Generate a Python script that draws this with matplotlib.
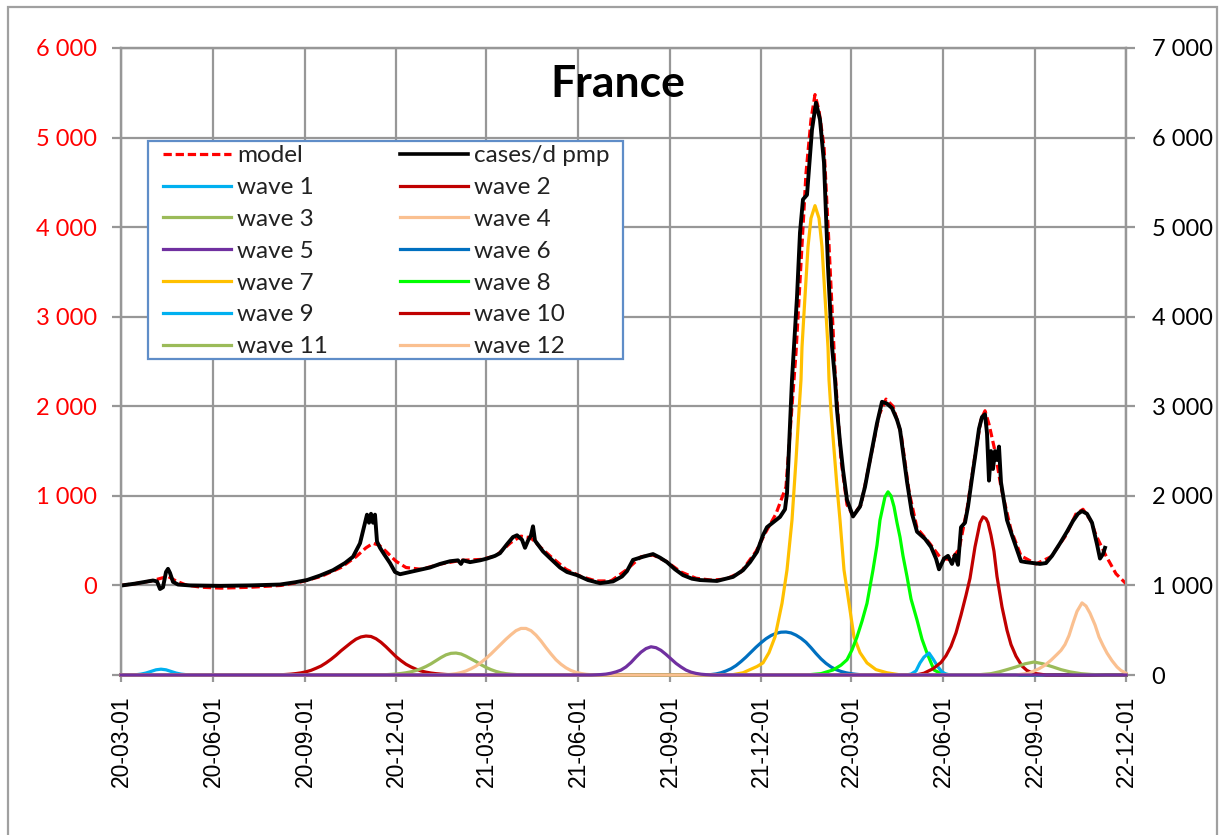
import numpy as np
import matplotlib
matplotlib.use("Agg")
import matplotlib.pyplot as plt
import matplotlib.dates as mdates
import matplotlib.ticker as mticker
from matplotlib.lines import Line2D
from matplotlib.patches import Rectangle

# ---------------------------------------------------------------------------
# Data: (days since 2020-03-01, value)
# ---------------------------------------------------------------------------
START_DATE = "2020-03-01"
END_DATE = "2022-12-01"

# observed daily cases per million (left axis)
cases = [
    (1, 0), (14, 20), (24, 40), (32, 55), (36, 45), (39, -40), (42, -20), (45, 150),
    (47, 185), (49, 140), (52, 40), (57, 10), (69, 0), (99, -5), (129, 0), (159, 10),
    (174, 35), (186, 60), (199, 110), (212, 170), (224, 250), (232, 320), (239, 470),
    (243, 650), (246, 790), (248, 700), (250, 800), (252, 700), (254, 790), (256, 490),
    (259, 420), (263, 350), (269, 250), (274, 150), (279, 125), (289, 150), (299, 175),
    (309, 200), (319, 240), (329, 270), (337, 280), (340, 240), (342, 280), (349, 260),
    (359, 280), (366, 300), (374, 330), (379, 360), (386, 460), (392, 540), (396, 560),
    (401, 510), (404, 420), (407, 500), (410, 560), (412, 660), (414, 500), (416, 470),
    (422, 380), (429, 305), (439, 200), (446, 150), (456, 115), (467, 60), (479, 25),
    (492, 45), (501, 100), (506, 160), (512, 285), (522, 320), (532, 350), (539, 310),
    (546, 260), (554, 180), (562, 115), (571, 75), (579, 60), (596, 50), (612, 95),
    (622, 170), (629, 260), (636, 375), (642, 560), (646, 650), (654, 720), (659, 765),
    (664, 850), (666, 1030), (669, 1800), (671, 2300), (676, 3220), (679, 3940),
    (682, 4310), (686, 4360), (691, 5090), (695, 5390), (699, 5200), (703, 4720),
    (707, 3560), (711, 2670), (714, 2300), (716, 1960), (719, 1600), (722, 1290),
    (726, 955), (732, 770), (739, 880), (744, 1100), (749, 1400), (756, 1810),
    (761, 2050), (766, 2030), (771, 1980), (776, 1850), (779, 1740), (786, 1160),
    (791, 800), (796, 600), (804, 520), (810, 430), (815, 300), (818, 180), (823, 300),
    (827, 330), (831, 240), (834, 340), (837, 230), (840, 650), (844, 700), (847, 880),
    (851, 1200), (854, 1430), (858, 1750), (861, 1880), (864, 1910), (866, 1700),
    (868, 1170), (870, 1500), (872, 1300), (874, 1500), (876, 1400), (878, 1550),
    (880, 1150), (886, 730), (891, 560), (895, 430), (900, 270), (905, 260), (912, 250),
    (919, 240), (925, 250), (931, 330), (939, 470), (946, 600), (952, 720), (957, 800),
    (961, 830), (966, 800), (971, 700), (976, 460), (979, 300), (982, 350), (984, 420),
]

# fitted model (left axis)
model = [
    (0, 0), (14, 20), (30, 50), (40, 80), (47, 100), (55, 50), (65, 5), (80, -20),
    (100, -30), (130, -20), (160, 0), (180, 40), (200, 100), (220, 200), (235, 320),
    (245, 420), (252, 470), (258, 450), (265, 380), (275, 270), (285, 200), (300, 180),
    (320, 240), (340, 280), (360, 290), (375, 330), (390, 480), (400, 550), (410, 530),
    (420, 420), (430, 320), (445, 180), (460, 100), (475, 50), (490, 50), (505, 170),
    (520, 320), (532, 340), (545, 270), (560, 150), (575, 80), (590, 60), (605, 70),
    (620, 150), (635, 380), (645, 600), (655, 800), (665, 1100), (675, 2600),
    (685, 4600), (690, 5200), (694, 5480), (698, 5300), (703, 4900), (708, 3800),
    (714, 2400), (720, 1400), (726, 900), (732, 780), (740, 900), (750, 1450),
    (758, 1900), (765, 2080), (772, 2000), (780, 1700), (788, 1050), (796, 640),
    (808, 480), (820, 300), (830, 290), (838, 400), (846, 850), (854, 1450),
    (860, 1850), (864, 1950), (868, 1800), (874, 1500), (880, 1100), (890, 620),
    (900, 330), (915, 240), (930, 320), (945, 560), (955, 800), (962, 850),
    (970, 720), (975, 560), (985, 330), (995, 130), (1005, 20),
]

# individual waves (right axis)
wave_1 = [(0, 0), (12, 0), (15, 3), (20, 10), (25, 22), (30, 40), (35, 58), (40, 65),
          (45, 58), (50, 40), (55, 22), (60, 10), (65, 4), (70, 1), (75, 0), (1005, 0)]
wave_2 = [(0, 0), (150, 0), (160, 3), (165, 6), (170, 10), (175, 16), (180, 24),
          (185, 36), (190, 52), (195, 75), (200, 100), (205, 135), (210, 175),
          (215, 220), (220, 270), (225, 315), (230, 360), (235, 400), (240, 425),
          (245, 435), (250, 430), (255, 405), (260, 365), (265, 315), (270, 260),
          (275, 205), (280, 160), (285, 120), (290, 90), (295, 65), (300, 45),
          (305, 32), (310, 22), (315, 15), (320, 10), (325, 6), (330, 3), (340, 0),
          (1005, 0)]
wave_3 = [(0, 0), (255, 0), (260, 2), (265, 4), (270, 7), (275, 11), (280, 17),
          (285, 25), (290, 36), (295, 50), (300, 70), (305, 95), (310, 125),
          (315, 160), (320, 195), (325, 225), (330, 242), (335, 245), (340, 235),
          (345, 210), (350, 180), (355, 150), (360, 115), (365, 85), (370, 60),
          (375, 40), (380, 25), (385, 15), (390, 9), (395, 5), (400, 2), (405, 0),
          (1005, 0)]
wave_4 = [(0, 0), (320, 0), (325, 3), (330, 8), (335, 15), (340, 27), (345, 45),
          (350, 70), (355, 100), (360, 140), (365, 185), (370, 235), (375, 290),
          (380, 345), (385, 400), (390, 450), (395, 495), (400, 520), (405, 520),
          (410, 495), (415, 445), (420, 380), (425, 305), (430, 235), (435, 170),
          (440, 120), (445, 80), (450, 50), (455, 30), (460, 17), (465, 8), (470, 3),
          (475, 0), (1005, 0)]
wave_5 = [(0, 0), (470, 0), (475, 2), (480, 5), (485, 10), (490, 20), (495, 35),
          (500, 55), (505, 90), (510, 140), (515, 200), (520, 255), (525, 295),
          (530, 315), (535, 305), (540, 275), (545, 230), (550, 180), (555, 130),
          (560, 90), (565, 55), (570, 32), (575, 18), (580, 9), (585, 4), (590, 1),
          (595, 0), (1005, 0)]
wave_6 = [(0, 0), (585, 0), (590, 5), (595, 12), (600, 25), (605, 45), (610, 70),
          (615, 105), (620, 150), (625, 200), (630, 255), (635, 310), (640, 360),
          (645, 405), (650, 440), (655, 465), (660, 478), (665, 480), (670, 470),
          (675, 445), (680, 410), (685, 365), (690, 305), (695, 240), (700, 180),
          (705, 130), (710, 90), (715, 60), (720, 40), (725, 25), (730, 15), (735, 8),
          (740, 3), (745, 0), (1005, 0)]
wave_7 = [(0, 0), (610, 0), (622, 25), (636, 95), (642, 135), (648, 250), (654, 425),
          (661, 800), (666, 1173), (671, 1730), (675, 2400), (678, 2950), (680, 3295),
          (681, 3660), (683, 4040), (685, 4410), (687, 4780), (690, 5100), (694, 5240),
          (698, 5100), (701, 4780), (703, 4410), (705, 4040), (707, 3660), (708, 3295),
          (710, 2950), (712, 2660), (716, 2100), (719, 1730), (723, 1173), (728, 800),
          (733, 425), (739, 250), (746, 135), (755, 60), (766, 25), (780, 0), (1005, 0)]
wave_8 = [(0, 0), (685, 0), (700, 15), (712, 56), (720, 110), (726, 170), (731, 280),
          (736, 425), (741, 600), (746, 800), (752, 1173), (756, 1450), (759, 1730),
          (764, 1990), (767, 2045), (770, 2000), (773, 1880), (776, 1700), (779, 1540),
          (782, 1330), (786, 1100), (790, 850), (796, 615), (801, 400), (806, 245),
          (813, 56), (820, 15), (830, 0), (1005, 0)]
wave_9 = [(0, 0), (785, 0), (790, 10), (795, 45), (799, 135), (803, 200), (808, 245),
          (812, 180), (817, 90), (821, 35), (825, 10), (830, 0), (1005, 0)]
wave_10 = [(0, 0), (795, 0), (803, 20), (812, 70), (820, 140), (825, 215), (830, 320),
           (835, 470), (840, 670), (845, 890), (849, 1080), (854, 1430), (859, 1700),
           (862, 1765), (865, 1745), (867, 1700), (870, 1560), (873, 1380),
           (876, 1100), (881, 760), (886, 500), (890, 340), (895, 210), (901, 100),
           (906, 50), (912, 20), (925, 0), (1005, 0)]
wave_11 = [(0, 0), (850, 0), (860, 5), (870, 15), (878, 35), (886, 60), (895, 90),
           (904, 125), (913, 145), (922, 125), (932, 90), (940, 60), (949, 35),
           (960, 15), (970, 6), (985, 0), (1005, 0)]
wave_12 = [(0, 0), (895, 0), (908, 20), (918, 70), (924, 110), (930, 165), (936, 230),
           (940, 275), (944, 340), (948, 440), (952, 580), (956, 710), (961, 805),
           (965, 770), (969, 690), (974, 560), (978, 425), (982, 330), (986, 245),
           (991, 160), (996, 90), (1000, 50), (1005, 20)]

waves = [wave_1, wave_2, wave_3, wave_4, wave_5, wave_6,
         wave_7, wave_8, wave_9, wave_10, wave_11, wave_12]
wave_labels = [f"wave {i}" for i in range(1, 13)]
wave_colors = ["#00b0f0", "#c00000", "#9bbb59", "#fac090", "#7030a0", "#0070c0",
               "#ffc000", "#00ff00", "#00b0f0", "#c00000", "#9bbb59", "#fac090"]

left_ticks = list(range(-1000, 6001, 1000))
right_ticks = list(range(0, 7001, 1000))

# ---------------------------------------------------------------------------
W, H = 1225, 835
GRID = "#979797"
base = np.datetime64(START_DATE)


def as_xy(points):
    d = np.array([p[0] for p in points])
    v = np.array([p[1] for p in points], dtype=float)
    return base + d.astype("timedelta64[D]"), v


fig = plt.figure(figsize=(W / 100, H / 100), dpi=100)
ax = fig.add_axes([121 / W, 1 - 675 / H, (1126 - 121) / W, (675 - 48) / H])
ax2 = ax.twinx()

# model and observations on the left axis
mx, my = as_xy(model)
cx, cy = as_xy(cases)
ax.plot(mx, my, color="#ff0000", lw=2.3, dashes=(2.6, 1.2), zorder=3)
ax.plot(cx, cy, color="black", lw=2.8, zorder=4, solid_joinstyle="round")

# waves on the right axis
for i, (w, col) in enumerate(zip(waves, wave_colors)):
    wx, wy = as_xy(w)
    z = 6 if i == 4 else 3
    ax2.plot(wx, wy, color=col, lw=2.3, zorder=z, clip_on=False)

ax.set_xlim(np.datetime64(START_DATE), np.datetime64(END_DATE))
ax.set_ylim(-1000, 6000)
ax2.set_ylim(0, 7000)

ax.xaxis.set_major_locator(mdates.MonthLocator(bymonth=[3, 6, 9, 12], bymonthday=1))
ax.xaxis.set_major_formatter(mdates.DateFormatter("%y-%m-%d"))


def thousands(v, pos=None):
    return f"{int(round(v)):,}".replace(",", " ")


def left_fmt(v, pos=None):
    return "" if v < 0 else thousands(v)


ax.set_yticks(left_ticks)
ax.yaxis.set_major_formatter(mticker.FuncFormatter(left_fmt))
ax2.set_yticks(right_ticks)
ax2.yaxis.set_major_formatter(mticker.FuncFormatter(thousands))

ax.grid(True, color=GRID, lw=1.6, zorder=0)
ax.set_axisbelow(True)

for a in (ax, ax2):
    for s in a.spines.values():
        s.set_color(GRID)
        s.set_linewidth(1.6)

ax.tick_params(axis="y", colors=GRID, length=6.5, width=1.6, pad=11,
               labelcolor="#ff0000", labelsize=17)
ax2.tick_params(axis="y", colors=GRID, length=6.5, width=1.6, pad=12,
                labelcolor="black", labelsize=17)
ax.tick_params(axis="x", colors=GRID, length=5, width=1.6, pad=10,
               labelcolor="black", labelsize=16.5, labelrotation=90)
for lab in ax.get_yticklabels() + ax2.get_yticklabels():
    lab.set_family("Lato")
for lab in ax.get_xticklabels():
    lab.set_family("Liberation Sans")

# legend box
fig.patches.append(Rectangle((148 / W, 1 - 359 / H), (623 - 148) / W, (359 - 141) / H,
                             transform=fig.transFigure, facecolor="white",
                             edgecolor="#5f8dc8", lw=1.6, zorder=4))

# legend entries, filled row by row
model_h = Line2D([], [], color="#ff0000", lw=2.3, dashes=(2.6, 1.2))
cases_h = Line2D([], [], color="black", lw=2.6)
wave_h = [Line2D([], [], color=c, lw=2.3) for c in wave_colors]
col1 = [model_h] + wave_h[0::2]
col2 = [cases_h] + wave_h[1::2]
lab1 = ["model"] + wave_labels[0::2]
lab2 = ["cases/d pmp"] + wave_labels[1::2]
leg = fig.legend(col1 + col2, lab1 + lab2, ncol=2, loc="upper left",
                 bbox_to_anchor=(162 / W, 1 - 144 / H), bbox_transform=fig.transFigure,
                 borderaxespad=0, frameon=False,
                 prop={"family": "Lato", "size": 17.5}, handlelength=2.8,
                 handletextpad=0.25, columnspacing=2.95, labelspacing=0.445,
                 borderpad=0.05)
leg.set_zorder(5)
for t in leg.get_texts():
    t.set_color("#222222")

fig.text(617.5 / W, 1 - 84 / H, "France", ha="center", va="center",
         fontsize=32, fontweight="bold", family="Lato")

# chart border
fig.patches.append(Rectangle((8 / W, -0.05), (1217 - 8) / W, 1 - 7 / H + 0.05,
                             transform=fig.transFigure, fill=False,
                             edgecolor="#a0a0a0", lw=1.6, zorder=6))

fig.savefig("out.png", dpi=100)
